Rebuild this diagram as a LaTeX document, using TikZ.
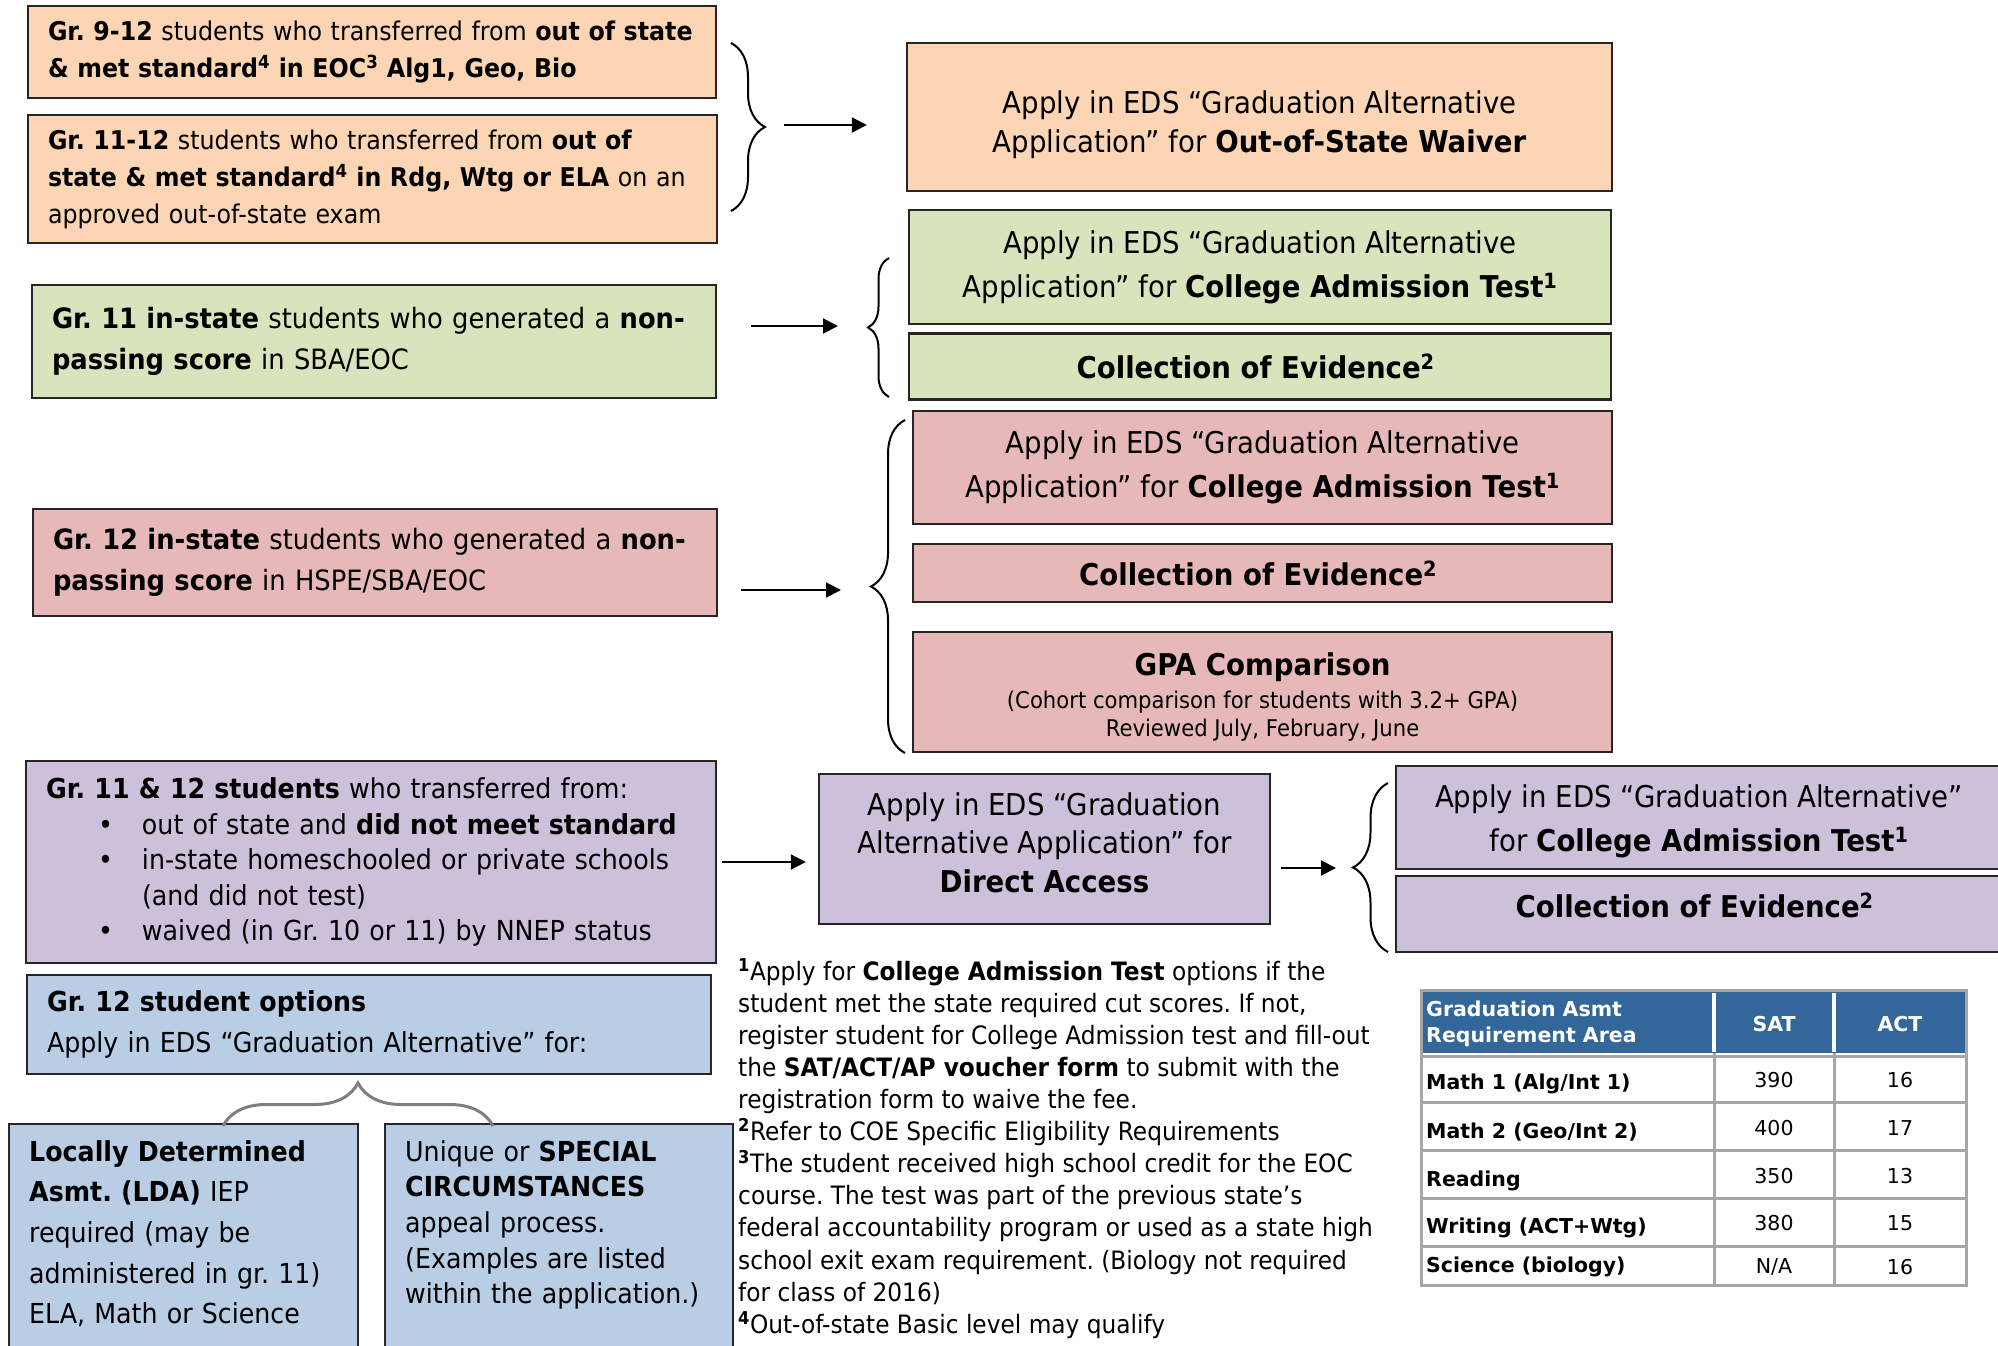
\documentclass[tikz,border=0pt]{standalone}
\usepackage{fontspec}
\setmainfont{DejaVu Sans}[FakeStretch=0.92]
\newfontfamily\tablefont{DejaVu Sans}
\usetikzlibrary{positioning, arrows.meta, decorations.pathreplacing}
\frenchspacing

\definecolor{peach}{HTML}{FCD5B4}
\definecolor{sage}{HTML}{D7E4BC}
\definecolor{rose}{HTML}{E6B9B8}
\definecolor{lilac}{HTML}{CCC0DA}
\definecolor{sky}{HTML}{B9CDE5}
\definecolor{tablehead}{HTML}{336699}
\definecolor{gridgray}{HTML}{A6A6A6}
\definecolor{bracegray}{HTML}{7F7F7F}

\newcommand{\sz}[2]{\fontsize{#1}{#2}\selectfont}

\begin{document}
\begin{tikzpicture}[x=1pt, y=-1pt,
	block/.style = { rectangle, draw=black!85, line width=2.4pt, inner sep=0pt },
	leftblock/.style = { block, align=left, inner xsep=20pt },
	rightblock/.style = { block, align=center },
	curly/.style = { decorate, line width=2pt, decoration={brace, amplitude=#1} },
	flow/.style = { line width=2pt, -{Triangle[length=15pt, width=15pt]} },
	cell/.style = { inner sep=0pt, font=\tablefont\sz{20.5}{25.5} } ]

  \useasboundingbox (0,0) rectangle (1998,1346);
  \clip (0,0) rectangle (1998,1346);

  % out of state
  \node [name=oos9, leftblock, fill=peach, text width=648pt,
	minimum height=92pt, font=\sz{25.8}{37}] at (372,52)
	{ \textbf{Gr. 9-12} students who transferred from \textbf{out of state}\\
	  \textbf{\& met standard\textsuperscript{4} in EOC\textsuperscript{3} Alg1, Geo, Bio} };
  \node [name=oos11, leftblock, fill=peach, text width=649pt,
	minimum height=128pt, font=\sz{25.8}{37}] at (372.5,179)
	{ \textbf{Gr. 11-12} students who transferred from \textbf{out of}\\
	  \textbf{state \& met standard\textsuperscript{4} in Rdg, Wtg or ELA} on an\\
	  approved out-of-state exam };
  \node [name=waiver, rightblock, fill=peach, minimum width=705pt,
	minimum height=148pt, font=\sz{30}{39}] at (1259.5,117)
	{ \rule{0pt}{39pt}Apply in EDS “Graduation Alternative\\
	  Application” for \textbf{Out-of-State Waiver} };

  % gr. 11 in-state
  \node [name=inst11, leftblock, fill=sage, text width=644pt,
	minimum height=113pt, font=\sz{28}{41}] at (374,341.5)
	{ \textbf{Gr. 11 in-state} students who generated a \textbf{non-}\\
	  \textbf{passing score} in SBA/EOC };
  \node [name=cat11, rightblock, fill=sage, minimum width=702pt,
	minimum height=114pt, font=\sz{30}{44}] at (1260,267)
	{ Apply in EDS “Graduation Alternative\\
	  Application” for \textbf{College Admission Test\textsuperscript{1}} };
  \node [name=coe11, rightblock, fill=sage, minimum width=702pt,
	minimum height=66pt, font=\sz{30}{40}, below=7pt of cat11]
	{ \textbf{Collection of Evidence\textsuperscript{2}} };

  % gr. 12 in-state
  \node [name=inst12, leftblock, fill=rose, text width=644pt,
	minimum height=107pt, font=\sz{28}{41}] at (375,562.5)
	{ \textbf{Gr. 12 in-state} students who generated a \textbf{non-}\\
	  \textbf{passing score} in HSPE/SBA/EOC };
  \node [name=cat12, rightblock, fill=rose, minimum width=699pt,
	minimum height=113pt, font=\sz{30}{44}] at (1262.5,467.5)
	{ Apply in EDS “Graduation Alternative\\
	  Application” for \textbf{College Admission Test\textsuperscript{1}} };
  \node [name=coe12, rightblock, fill=rose, minimum width=699pt,
	minimum height=58pt, font=\sz{30}{40}, below=17.6pt of cat12]
	{ \textbf{Collection of Evidence\textsuperscript{2}} };
  \node [name=gpa, rightblock, fill=rose, minimum width=699pt,
	minimum height=120pt, font=\sz{23}{28.5}, below=27.6pt of coe12]
	{ {\sz{30}{34}\rule{0pt}{33pt}\textbf{GPA Comparison}}\\[4pt]
	  (Cohort comparison for students with 3.2+ GPA)\\
	  Reviewed July, February, June };

  % transfers without standard
  \node [name=trans, leftblock, fill=lilac, text width=650pt,
	minimum height=202pt, font=\sz{27.5}{35.5}] at (371,862)
	{ \textbf{Gr. 11 \& 12 students} who transferred from:\\
	  \hspace*{52pt}\makebox[44pt][l]{•}out of state and \textbf{did not meet standard}\\
	  \hspace*{52pt}\makebox[44pt][l]{•}in-state homeschooled or private schools\\
	  \hspace*{96pt}(and did not test)\\
	  \hspace*{52pt}\makebox[44pt][l]{•}waived (in Gr. 10 or 11) by NNEP status };
  \node [name=direct, rightblock, fill=lilac, minimum width=451pt,
	minimum height=150pt, font=\sz{30}{38.5}] at (1044.5,849)
	{ Apply in EDS “Graduation\\
	  Alternative Application” for\\
	  \textbf{Direct Access}\rule[-13pt]{0pt}{13pt} };
  \node [name=catDa, rightblock, fill=lilac, minimum width=606pt,
	minimum height=103pt, font=\sz{30}{44}] at (1699,817.5)
	{ \rule{0pt}{31pt}Apply in EDS “Graduation Alternative”\\
	  for \textbf{College Admission Test\textsuperscript{1}} };
  \node [name=coeDa, rightblock, fill=lilac, minimum width=606pt,
	minimum height=76pt, font=\sz{30}{40}, below=4.6pt of catDa]
	{ \textbf{Collection of Evidence\textsuperscript{2}}\rule[-18pt]{0pt}{18pt} };

  % gr. 12 options
  \node [name=opts, leftblock, fill=sky, text width=644pt,
	minimum height=99pt, font=\sz{27.5}{41}] at (369,1024.5)
	{ \textbf{Gr. 12 student options}\\
	  Apply in EDS “Graduation Alternative” for: };
  \node [name=lda, leftblock, fill=sky, text width=309pt, inner ysep=16pt,
	anchor=north west, font=\sz{27.5}{40.7}] at (8,1123)
	{ \textbf{Locally Determined}\\
	  \textbf{Asmt. (LDA)} IEP\\
	  required (may be\\
	  administered in gr. 11)\\
	  ELA, Math or Science\\ ~ };
  \node [name=special, leftblock, fill=sky, text width=308pt, inner ysep=16pt,
	anchor=north west, font=\sz{27.5}{35.7}] at (384,1123)
	{ Unique or \textbf{SPECIAL}\\
	  \textbf{CIRCUMSTANCES}\\
	  appeal process.\\
	  (Examples are listed\\
	  within the application.)\\ ~\\ ~ };

  % braces and arrows
  \draw [curly=34pt] (731,43) -- (731,211);
  \coordinate (oosTip) at (765,125);
  \draw [flow, shorten <=19pt, shorten >=39pt] (oosTip) -- (oosTip -| waiver.west);

  \draw [curly=21pt] (889,397) -- (889,258);
  \coordinate (inst11Tip) at (868,326);
  \draw [flow, shorten <=34pt, shorten >=30pt] (inst11.east |- inst11Tip) -- (inst11Tip);

  \draw [curly=34pt] (905,753) -- (905,420);
  \coordinate (inst12Tip) at (871,590);
  \draw [flow, shorten <=23pt, shorten >=30pt] (inst12.east |- inst12Tip) -- (inst12Tip);

  \draw [flow, shorten <=5pt, shorten >=12pt] (trans.east) -- (trans.east -| direct.west);
  \draw [curly=35pt] (1388,952) -- (1388,783);
  \coordinate (directTip) at (1353,868);
  \draw [flow, shorten <=10pt, shorten >=17pt] (direct.east |- directTip) -- (directTip);

  \draw [curly=43pt, draw=bracegray, line width=3pt] (223,1126) -- (493,1126);

  % footnotes
  \node [name=notes, anchor=north west, align=left, inner sep=0pt,
	font=\sz{25.3}{32.1}] at (738,958)
	{ \textsuperscript{\textbf{1}}Apply for \textbf{College Admission Test} options if the\\
	  student met the state required cut scores. If not,\\
	  register student for College Admission test and fill-out\\
	  the \textbf{SAT/ACT/AP voucher form} to submit with the\\
	  registration form to waive the fee.\\
	  \textsuperscript{\textbf{2}}Refer to COE Specific Eligibility Requirements\\
	  \textsuperscript{\textbf{3}}The student received high school credit for the EOC\\
	  course. The test was part of the previous state’s\\
	  federal accountability program or used as a state high\\
	  school exit exam requirement. (Biology not required\\
	  for class of 2016)\\
	  \textsuperscript{\textbf{4}}Out-of-state Basic level may qualify };

  % cut score table
  \fill [tablehead] (1421,991) rectangle (1966,1053);
  \draw [gridgray, line width=3pt] (1421,990) rectangle (1966,1285);
  \draw [gridgray, line width=3pt] (1421,1056) -- (1966,1056)
	(1421,1102) -- (1966,1102) (1421,1150) -- (1966,1150)
	(1421,1198) -- (1966,1198) (1421,1246) -- (1966,1246)
	(1714,1053) -- (1714,1285) (1834,1053) -- (1834,1285);
  \draw [white, line width=4pt] (1714,993) -- (1714,1052) (1834,993) -- (1834,1052);

  \node [name=hdArea, cell, anchor=west, align=left, text=white,
	font=\tablefont\sz{20.5}{25.5}\bfseries] at (1426,1024)
	{ Graduation Asmt\\ Requirement Area };
  \node [name=hdSat, cell, text=white, font=\tablefont\sz{20.5}{25.5}\bfseries] at (1774,1024) {SAT};
  \node [name=hdAct, cell, text=white, font=\tablefont\sz{20.5}{25.5}\bfseries] at (1900,1024) {ACT};

  \node [name=math1, cell, anchor=west, font=\tablefont\sz{20.5}{25.5}\bfseries] at (1426,1084) {Math 1 (Alg/Int 1)};
  \node [name=math1Sat, cell] at (1774,1080) {390};
  \node [name=math1Act, cell] at (1900,1080) {16};
  \node [name=math2, cell, anchor=west, font=\tablefont\sz{20.5}{25.5}\bfseries] at (1426,1132) {Math 2 (Geo/Int 2)};
  \node [name=math2Sat, cell] at (1774,1128) {400};
  \node [name=math2Act, cell] at (1900,1128) {17};
  \node [name=reading, cell, anchor=west, font=\tablefont\sz{20.5}{25.5}\bfseries] at (1426,1181) {Reading};
  \node [name=readingSat, cell] at (1774,1176) {350};
  \node [name=readingAct, cell] at (1900,1176) {13};
  \node [name=writing, cell, anchor=west, font=\tablefont\sz{20.5}{25.5}\bfseries] at (1426,1228) {Writing (ACT+Wtg)};
  \node [name=writingSat, cell] at (1774,1223) {380};
  \node [name=writingAct, cell] at (1900,1223) {15};
  \node [name=science, cell, anchor=west, font=\tablefont\sz{20.5}{25.5}\bfseries] at (1426,1267) {Science (biology)};
  \node [name=scienceSat, cell] at (1774,1267) {N/A};
  \node [name=scienceAct, cell] at (1900,1267) {16};
\end{tikzpicture}
\end{document}
